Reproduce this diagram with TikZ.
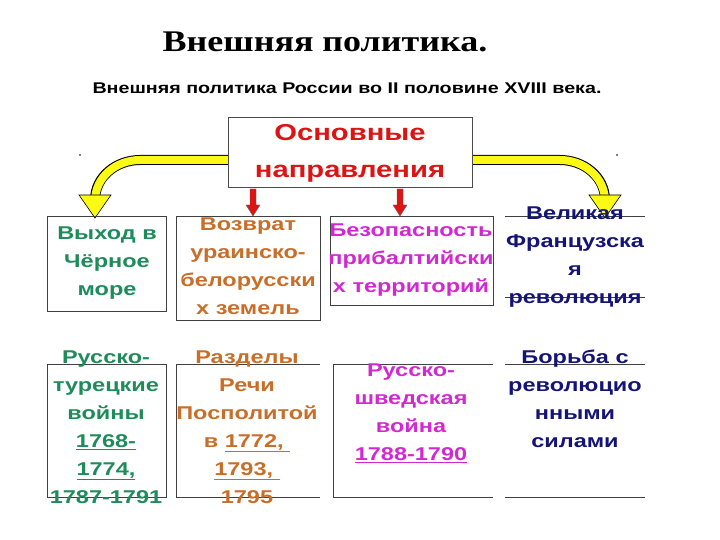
\documentclass[tikz,border=0pt]{standalone}
\usepackage{fontspec}
\setmainfont{Liberation Sans}[FakeStretch=1.27]
\newfontfamily\serifb{Liberation Serif}[FakeStretch=1.2]
\definecolor{cgreen}{RGB}{30,140,90}
\definecolor{corange}{RGB}{200,110,40}
\definecolor{cmag}{RGB}{210,40,210}
\definecolor{cnavy}{RGB}{20,20,120}
\definecolor{cred}{RGB}{220,20,20}
\definecolor{cyel}{RGB}{250,250,20}
\tikzset{
  txt/.style={font=\bfseries\fontsize{18.5}{28}\selectfont, align=center, inner sep=0},
  ln/.style={draw=black!75, line width=0.8pt},
}
\begin{document}
\begin{tikzpicture}[x=1pt,y=-1pt]
\useasboundingbox (0,0) rectangle (720,540);
\node (title) at (325,42) {\serifb\bfseries\fontsize{30}{34}\selectfont Внешняя политика.};
\node (sub) at (347,88) {\bfseries\fontsize{15.5}{18}\selectfont Внешняя политика России во II половине XVIII века.};
% yellow arrows
\draw[black,line width=10pt] (228,160) -- (140,160) to[out=180,in=90] (95,200);
\draw[cyel,line width=8pt] (229,160) -- (140,160) to[out=180,in=90] (95,201);
\draw[black,line width=10pt] (472,160) -- (560,160) to[out=0,in=90] (605,200);
\draw[cyel,line width=8pt] (471,160) -- (560,160) to[out=0,in=90] (605,201);
\fill[cyel,draw=black,line width=0.6pt] (79,195) -- (111,195) -- (95,218) -- cycle;
\fill[cyel,draw=black,line width=0.6pt] (589,195) -- (621,195) -- (605,218) -- cycle;
\fill[black] (80,155) circle (0.8); \fill[black] (617,155) circle (0.8);
% top box
\node[draw=black!70, line width=1pt, fill=white, minimum width=244, minimum height=70, text=cred, font=\bfseries\fontsize{23}{37}\selectfont, align=center] (top) at (350,153) {Основные\\направления};
% red arrows
\foreach \x in {253,400}{
  \fill[cred,draw=black!60,line width=0.4pt] (\x-3,189) -- (\x+3,189) -- (\x+3,205) -- (\x+7,205) -- (\x,216) -- (\x-7,205) -- (\x-3,205) -- cycle;
}
% row 1 boxes
\draw[ln] (47,216) rectangle (166,311);
\draw[ln] (176,216) rectangle (320,320);
\draw[ln] (330,216) rectangle (493,305);
\draw[ln] (505,216) -- (645,216);
\draw[ln] (505,297) -- (645,297);
\node[txt,text=cgreen] (b1) at (107,263) {Выход в\\Чёрное\\море};
\node[txt,text=corange] (b2) at (248,266) {Возврат\\ураинско-\\белорусски\\х земель};
\node[txt,text=cmag] (b3) at (411,260) {Безопасность\\прибалтийски\\х территорий};
\node[txt,text=cnavy] (b4) at (575,257) {Великая\\Французска\\я\\революция};
% row 2 boxes
\draw[ln] (47,364) rectangle (166,497);
\draw[ln] (320,364) -- (176,364) -- (176,497) -- (320,497);
\draw[ln] (493,364) -- (333,364) -- (333,497) -- (493,497);
\draw[ln] (505,364) -- (645,364);
\draw[ln] (505,497) -- (645,497);
\node[txt,text=cgreen] (c1) at (106,427) {Русско-\\турецкие\\войны\\\underline{1768-}\\\underline{1774,}\\1787-1791};
\node[txt,text=corange] (c2) at (247,427) {Разделы\\Речи\\Посполитой\\в \underline{1772, }\\\underline{1793, }\\1795};
\node[txt,text=cmag] (c3) at (411,413) {Русско-\\шведская\\война\\\underline{1788-1790}};
\node[txt,text=cnavy] (c4) at (575,399) {Борьба с\\революцио\\нными\\силами};
\end{tikzpicture}
\end{document}
